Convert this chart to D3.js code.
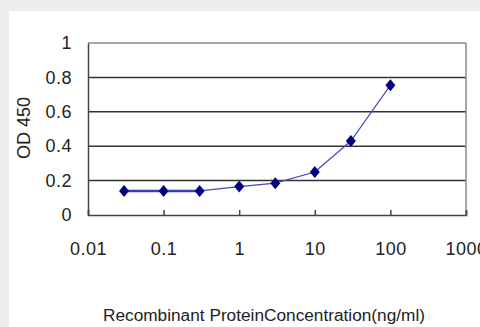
<!DOCTYPE html>
<html>
<head>
<meta charset="utf-8">
<script src="https://cdn.jsdelivr.net/npm/d3@7"></script>
<style>
  html, body { margin: 0; padding: 0; background: #ededed; }
  svg { display: block; }
  text { font-family: "Liberation Sans", Arial, sans-serif; fill: #222; }
</style>
</head>
<body>
<svg id="chart" width="480" height="327"></svg>
<script>
const concentrations = [0.03, 0.1, 0.3, 1, 3, 10, 30, 100];
const od_values = [0.14, 0.14, 0.14, 0.165, 0.185, 0.25, 0.43, 0.755];
const x_ticks = [0.01, 0.1, 1, 10, 100, 1000];
const x_tick_labels = ["0.01", "0.1", "1", "10", "100", "1000"];
const y_ticks = [0, 0.2, 0.4, 0.6, 0.8, 1];
const y_tick_labels = ["0", "0.2", "0.4", "0.6", "0.8", "1"];

const points = concentrations.map((c, i) => ({c, od: od_values[i]}));

const svg = d3.select("svg#chart");
const margin = {left: 88, top: 43, right: 466, bottom: 215};

// white panel
svg.append("rect")
  .attr("x", 9).attr("y", 11)
  .attr("width", 480).attr("height", 327)
  .attr("fill", "#fff");

const x = d3.scaleLog()
  .domain([0.01, 1000])
  .range([margin.left, margin.right]);

const y = d3.scaleLinear()
  .domain([0, 1])
  .range([margin.bottom, margin.top]);

// gridlines
svg.append("g")
  .selectAll("line")
  .data(y_ticks.filter(d => d > 0))
  .enter().append("line")
    .attr("x1", margin.left).attr("x2", margin.right)
    .attr("y1", d => y(d)).attr("y2", d => y(d))
    .attr("stroke", d => d === 1 ? "#8a8a8a" : "#333")
    .attr("stroke-width", 1.5);

// right border
svg.append("line")
  .attr("x1", margin.right).attr("x2", margin.right)
  .attr("y1", margin.top).attr("y2", margin.bottom)
  .attr("stroke", "#8a8a8a").attr("stroke-width", 1.5);

// bottom axis
const x_axis = svg.append("g")
  .attr("transform", `translate(0,${margin.bottom})`)
  .call(d3.axisBottom(x).tickValues(x_ticks).tickSize(-5).tickFormat((d, i) => x_tick_labels[i]));
x_axis.select(".domain").attr("stroke", "#444").attr("stroke-width", 1.5);
x_axis.selectAll(".tick line").attr("stroke", "#444").attr("stroke-width", 1.5);
x_axis.selectAll(".tick text")
  .attr("y", 27)
  .attr("font-size", 18)
  .attr("letter-spacing", 0.5)
  .style("font-family", "'Liberation Sans', Arial, sans-serif")
  .attr("fill", "#333");

// left axis
const y_axis = svg.append("g")
  .attr("transform", `translate(${margin.left},0)`)
  .call(d3.axisLeft(y).tickValues(y_ticks).tickSize(0).tickPadding(16).tickFormat((d, i) => y_tick_labels[i]));
y_axis.select(".domain").attr("stroke", "#444").attr("stroke-width", 1.5);
y_axis.selectAll(".tick text")
  .attr("font-size", 18)
  .attr("letter-spacing", 0.5)
  .style("font-family", "'Liberation Sans', Arial, sans-serif")
  .attr("fill", "#333");

// line
const line = d3.line()
  .x(d => x(d.c))
  .y(d => y(d.od));

svg.append("path")
  .datum(points.slice(0, 3))
  .attr("d", line)
  .attr("fill", "none")
  .attr("stroke", "#3c3cb4")
  .attr("stroke-width", 2.5);

svg.append("path")
  .datum(points.slice(2))
  .attr("d", line)
  .attr("fill", "none")
  .attr("stroke", "#4646c0")
  .attr("stroke-width", 1.2);

// diamond markers
svg.append("g")
  .selectAll("path")
  .data(points)
  .enter().append("path")
    .attr("transform", d => `translate(${x(d.c)},${y(d.od)})`)
    .attr("d", "M0,-6L5,0L0,6L-5,0Z")
    .attr("fill", "#000080");

// axis titles
svg.append("text")
  .attr("transform", "translate(30,128) rotate(-90)")
  .attr("text-anchor", "middle")
  .attr("font-size", 18)
  .attr("fill", "#333")
  .text("OD 450");

svg.append("text")
  .attr("x", 264).attr("y", 321)
  .attr("text-anchor", "middle")
  .attr("font-size", 16)
  .attr("textLength", 322)
  .attr("lengthAdjust", "spacingAndGlyphs")
  .attr("fill", "#333")
  .text("Recombinant ProteinConcentration(ng/ml)");
</script>
</body>
</html>
